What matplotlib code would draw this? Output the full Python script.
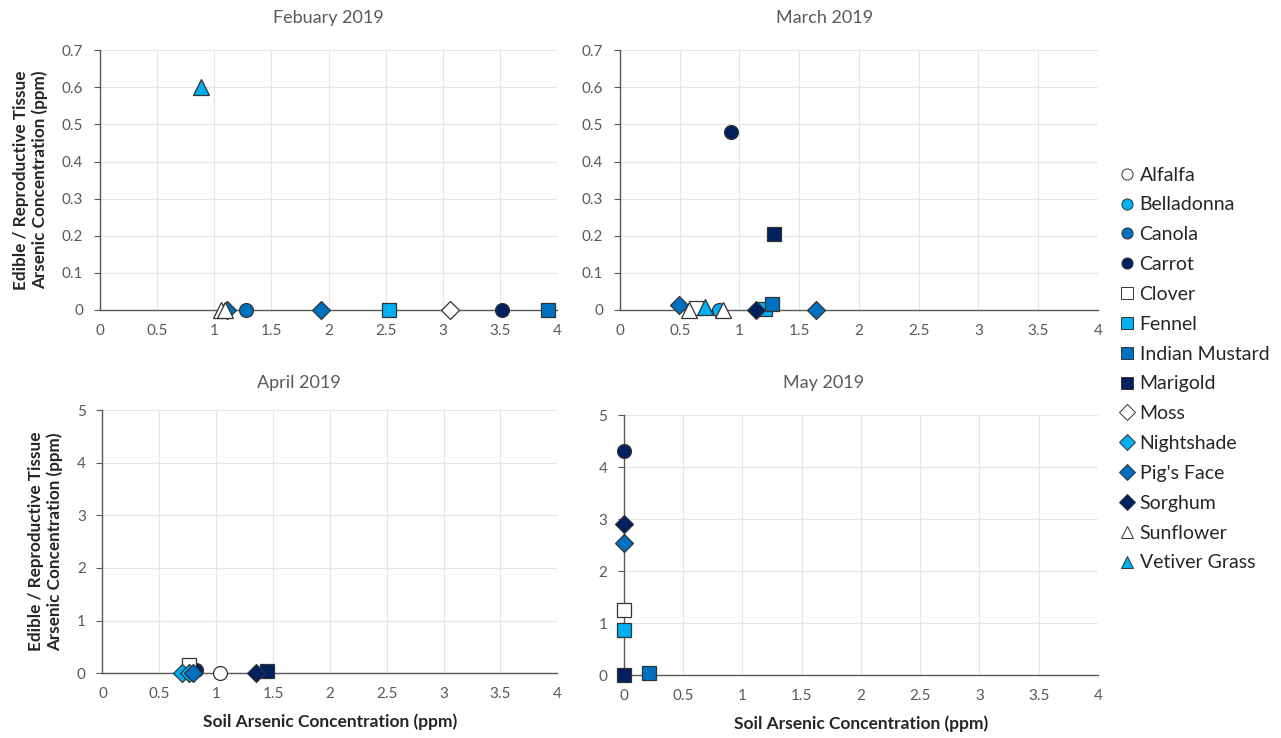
import matplotlib.pyplot as plt
from matplotlib.lines import Line2D

plt.rcParams['font.family'] = ['Lato', 'DejaVu Sans']

# species styling (fill colour, marker)
species = ['Alfalfa', 'Belladonna', 'Canola', 'Carrot', 'Clover', 'Fennel',
           'Indian Mustard', 'Marigold', 'Moss', 'Nightshade', "Pig's Face",
           'Sorghum', 'Sunflower', 'Vetiver Grass']
colors = ['white', '#00B0F0', '#0070C0', '#002060', 'white', '#00B0F0',
          '#0070C0', '#002060', 'white', '#00B0F0', '#0070C0', '#002060',
          'white', '#00B0F0']
markers = ['o', 'o', 'o', 'o', 's', 's', 's', 's', 'D', 'D', 'D', 'D', '^', '^']

# soil (x) vs tissue (y) arsenic, ppm
feb_species = ['Canola', 'Carrot', 'Fennel', 'Indian Mustard', 'Moss', "Pig's Face",
               "Pig's Face", 'Sunflower', 'Sunflower', 'Vetiver Grass']
feb_x = [1.28, 3.52, 2.53, 3.92, 3.06, 1.11, 1.93, 1.06, 1.09, 0.88]
feb_y = [0.0, 0.0, 0.0, 0.0, 0.0, 0.0, 0.0, 0.0, 0.0, 0.6]

mar_species = ['Belladonna', 'Carrot', 'Clover', 'Fennel', 'Indian Mustard', 'Marigold',
               "Pig's Face", "Pig's Face", 'Sorghum', 'Sunflower', 'Sunflower', 'Vetiver Grass']
mar_x = [0.83, 0.93, 0.64, 1.21, 1.27, 1.29, 0.49, 1.64, 1.14, 0.58, 0.86, 0.71]
mar_y = [0.0, 0.48, 0.005, 0.003, 0.015, 0.204, 0.014, 0.0, 0.0, 0.0, 0.0, 0.009]

apr_species = ['Alfalfa', 'Carrot', 'Clover', 'Marigold', 'Nightshade', 'Nightshade',
               "Pig's Face", 'Sorghum']
apr_x = [1.03, 0.82, 0.76, 1.45, 0.70, 0.76, 0.80, 1.35]
apr_y = [0.0, 0.05, 0.15, 0.04, 0.0, 0.0, 0.0, 0.0]

may_species = ['Carrot', 'Clover', 'Fennel', 'Indian Mustard', 'Marigold', "Pig's Face", 'Sorghum']
may_x = [0.0, 0.0, 0.0, 0.21, 0.0, 0.0, 0.0]
may_y = [4.32, 1.25, 0.87, 0.05, 0.0, 2.55, 2.91]

# title, data, y range, axes rect, title position (figure fraction)
panels = [
    ('Febuary 2019', feb_species, feb_x, feb_y, 0.7, 0.1,
     [0.078, 0.580, 0.357, 0.352], (0.256, 0.975)),
    ('March 2019', mar_species, mar_x, mar_y, 0.7, 0.1,
     [0.484, 0.580, 0.373, 0.352], (0.644, 0.975)),
    ('April 2019', apr_species, apr_x, apr_y, 5, 1,
     [0.080, 0.088, 0.355, 0.356], (0.233, 0.481)),
    ('May 2019', may_species, may_x, may_y, 5, 1,
     [0.487, 0.085, 0.370, 0.352], (0.643, 0.481)),
]

text_gray = '#595959'
fig = plt.figure(figsize=(12.81, 7.38), dpi=100)

for i, (title, sp, xs, ys, ymax, ystep, rect, tpos) in enumerate(panels):
    ax = fig.add_axes(rect)
    for name, col, mk in zip(species, colors, markers):
        px = [x for s, x in zip(sp, xs) if s == name]
        py = [y for s, y in zip(sp, ys) if s == name]
        if px:
            ms = 11 if mk == '^' else (9 if mk == 'D' else 10)
            ax.plot(px, py, linestyle='none', marker=mk, markersize=ms,
                    markerfacecolor=col, markeredgecolor='#333333',
                    markeredgewidth=0.9, clip_on=False, zorder=3)
    ax.set_xlim(0, 4)
    ax.set_ylim(0, ymax)
    ax.set_xticks([k * 0.5 for k in range(9)])
    nt = int(round(ymax / ystep))
    ax.set_yticks([k * ystep for k in range(nt + 1)])
    ax.xaxis.set_major_formatter(plt.FuncFormatter(lambda v, p: f'{v:g}'))
    ax.yaxis.set_major_formatter(plt.FuncFormatter(lambda v, p: f'{round(v, 2):g}'))
    ax.grid(True, color='#E6E6E6', linewidth=0.8)
    ax.set_axisbelow(True)
    for s in ['top', 'right']:
        ax.spines[s].set_visible(False)
    for s in ['left', 'bottom']:
        ax.spines[s].set_color('#595959')
        ax.spines[s].set_linewidth(1.0)
    ax.tick_params(colors=text_gray, labelsize=11, length=4, width=0.8,
                   direction='out', pad=8)
    ax.tick_params(axis='x', length=0, pad=10)
    fig.text(tpos[0], tpos[1], title, color=text_gray, fontsize=13,
             ha='center', va='center')
    if i % 2 == 0:
        ax.set_ylabel('Edible / Reproductive Tissue\nArsenic Concentration (ppm)',
                      fontweight='bold', fontsize=12.3, color='#262626', labelpad=10)
    if i >= 2:
        ax.set_xlabel('Soil Arsenic Concentration (ppm)', fontweight='bold',
                      fontsize=12.5, color='#262626', labelpad=9)

handles = [Line2D([], [], linestyle='none', marker=mk, markersize=8,
                  markerfacecolor=col, markeredgecolor='#333333', markeredgewidth=0.7)
           for col, mk in zip(colors, markers)]
fig.legend(handles, species, loc='center left', bbox_to_anchor=(0.857, 0.50),
           frameon=False, fontsize=14, labelspacing=0.66, handletextpad=0.05,
           handlelength=1.2, labelcolor='#262626')

fig.savefig('out.png', dpi=100)
